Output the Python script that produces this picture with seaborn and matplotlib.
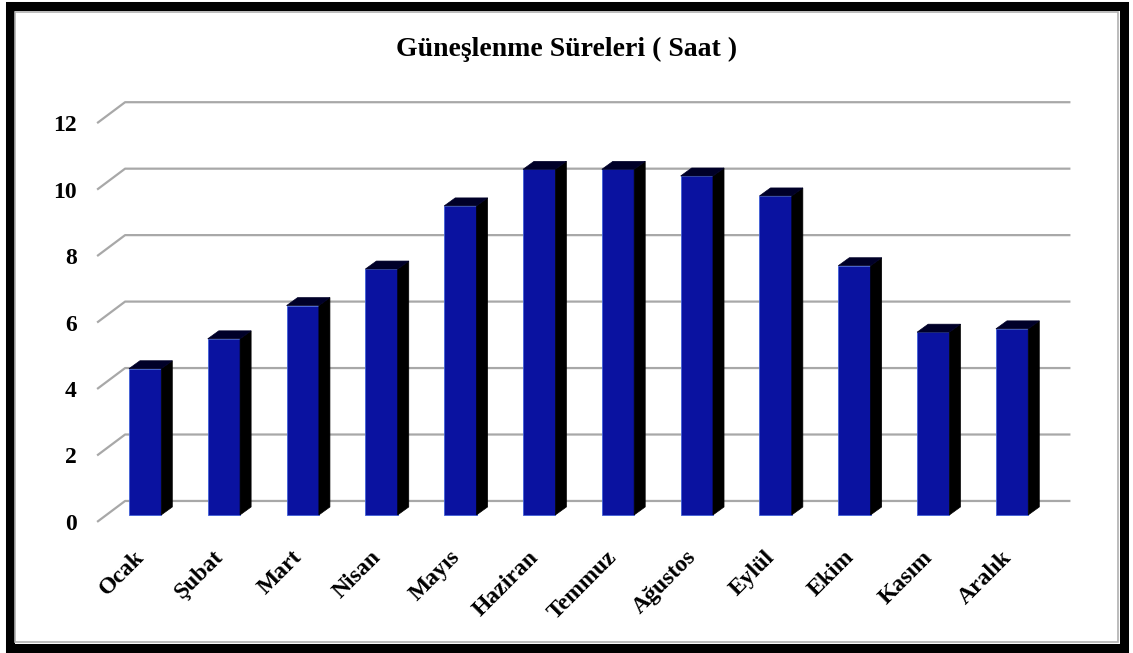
import numpy as np
import pandas as pd
import matplotlib
matplotlib.use('Agg')
import matplotlib.pyplot as plt
from matplotlib.patches import Polygon, Rectangle
import seaborn as sns

months = ['Ocak', 'Şubat', 'Mart', 'Nisan', 'Mayıs', 'Haziran',
          'Temmuz', 'Ağustos', 'Eylül', 'Ekim', 'Kasım', 'Aralık']
hours = [4.4, 5.3, 6.3, 7.4, 9.3, 10.4, 10.4, 10.2, 9.6, 7.5, 5.5, 5.6]
y_ticks = [0, 2, 4, 6, 8, 10, 12]
title = 'Güneşlenme Süreleri ( Saat )'

df = pd.DataFrame({'Ay': months, 'Saat': hours})

sns.set_style('white')
plt.rcParams['font.family'] = ['Liberation Serif', 'DejaVu Serif']
plt.rcParams['font.weight'] = 'bold'
plt.rcParams['text.color'] = 'black'
plt.rcParams['xtick.color'] = 'black'
plt.rcParams['ytick.color'] = 'black'

fig = plt.figure(figsize=(11.33, 6.53), dpi=100)
ax = fig.add_axes([0.0759, 0.186, 0.880, 0.687])

bar_w = 0.41
sns.barplot(data=df, x='Ay', y='Saat', color='#0A12A0', width=bar_w,
            edgecolor='#4060d8', linewidth=0.6, saturation=1, ax=ax, zorder=3)

# fake 3D depth for the bars
dx, dy = 0.14, 0.24
for p in ax.patches:
    x0 = p.get_x()
    x1 = x0 + p.get_width()
    h = p.get_height()
    side = Polygon([(x1, 0), (x1 + dx, dy), (x1 + dx, h + dy), (x1, h)],
                   closed=True, facecolor='black', edgecolor='black', lw=0.5, zorder=3)
    top = Polygon([(x0, h), (x0 + dx, h + dy), (x1 + dx, h + dy), (x1, h)],
                  closed=True, facecolor='#000028', edgecolor='#000028', lw=0.5, zorder=3)
    ax.add_patch(side)
    ax.add_patch(top)

# gridlines on the back wall, with slanted floor segment at left
front, back = -0.21, 0.42
x_front, x_back, x_end = -0.609, -0.254, 11.74
for t in y_ticks:
    ax.plot([x_front, x_back, x_end], [t + front, t + back, t + back],
            color='#a8a8a8', lw=1.6, zorder=1, solid_capstyle='butt')

ax.set_xlim(-0.75, 11.9)
ax.set_ylim(-0.5, 13)
ax.set_yticks([t + front for t in y_ticks], labels=[str(t) for t in y_ticks])
ax.tick_params(axis='y', length=0, pad=6.5, labelsize=17, labelcolor='black')
ax.tick_params(axis='x', length=0, pad=19, labelsize=17, labelcolor='black')
for lab in ax.get_xticklabels():
    lab.set_rotation(45)
    lab.set_ha('right')
    lab.set_va('baseline')
    lab.set_rotation_mode('anchor')
    lab.set_fontweight('bold')
for lab in ax.get_yticklabels():
    lab.set_fontweight('bold')
ax.set_xlabel('')
ax.set_ylabel('')
for s in ax.spines.values():
    s.set_visible(False)

fig.text(0.5, 0.925, title, ha='center', va='center', fontsize=20,
         fontweight='bold', color='black')

# outer frame
fig.patches.append(Rectangle((9.5 / 1133, 5.5 / 653), 1 - 19 / 1133, 1 - 11 / 653,
                             transform=fig.transFigure, fill=False,
                             edgecolor='black', lw=6.5, zorder=10))
fig.patches.append(Rectangle((15 / 1133, 11 / 653), 1 - 30 / 1133, 1 - 23 / 653,
                             transform=fig.transFigure, fill=False,
                             edgecolor='#b0b0b0', lw=1.2, zorder=10))

fig.savefig('out.png', dpi=100)
